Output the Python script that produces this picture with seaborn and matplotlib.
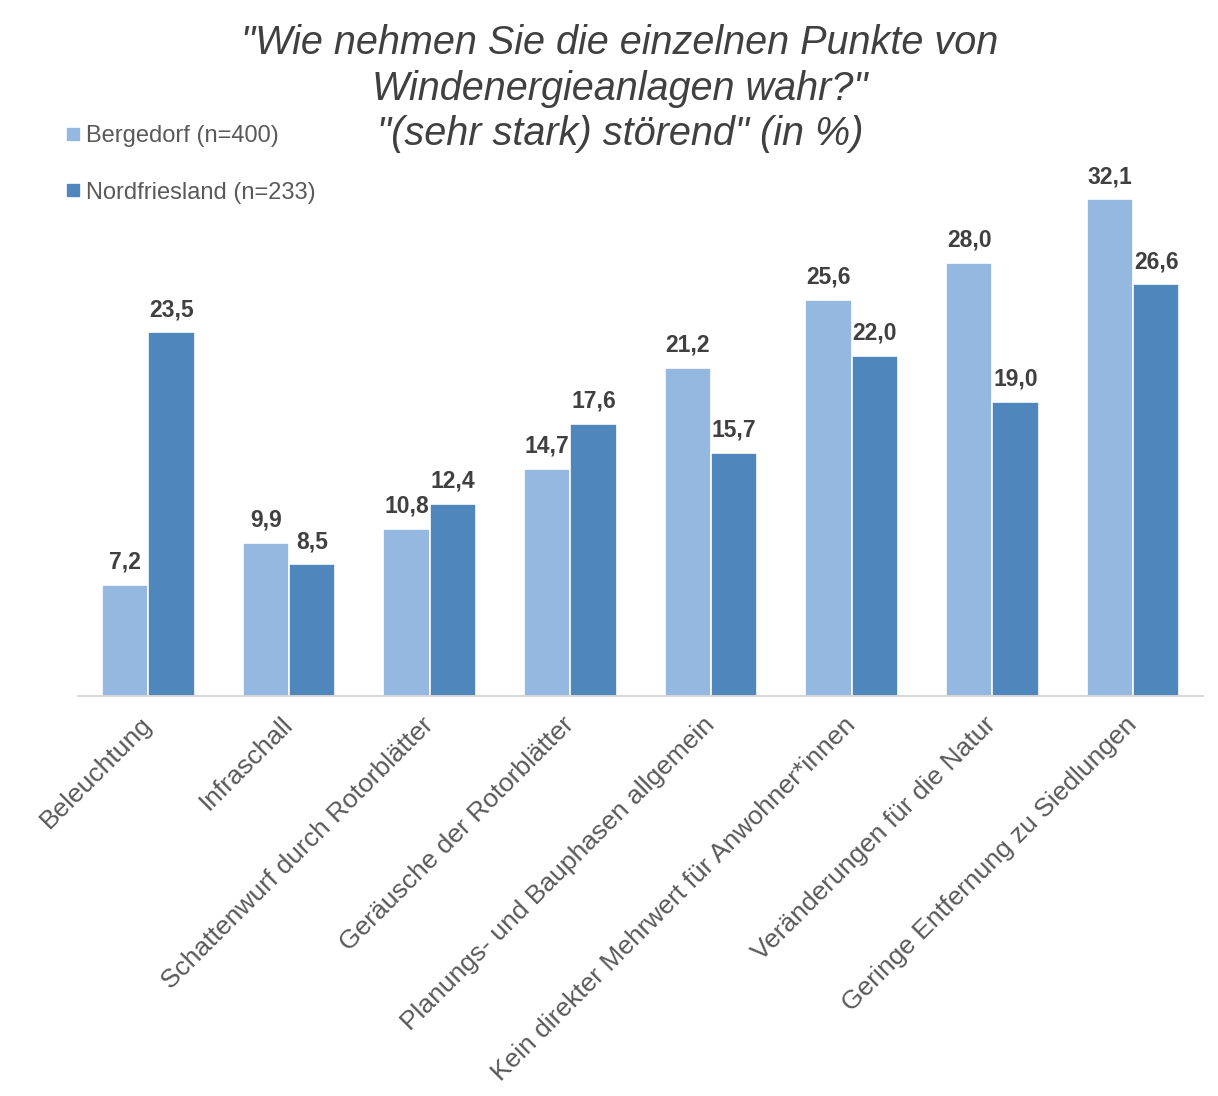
import matplotlib
matplotlib.use("Agg")
import matplotlib.pyplot as plt
import seaborn as sns
import pandas as pd
from matplotlib.lines import Line2D

categories = ["Beleuchtung", "Infraschall", "Schattenwurf durch Rotorblätter",
              "Geräusche der Rotorblätter", "Planungs- und Bauphasen allgemein",
              "Kein direkter Mehrwert für Anwohner*innen", "Veränderungen für die Natur",
              "Geringe Entfernung zu Siedlungen"]
bergedorf = [7.2, 9.9, 10.8, 14.7, 21.2, 25.6, 28.0, 32.1]
nordfriesland = [23.5, 8.5, 12.4, 17.6, 15.7, 22.0, 19.0, 26.6]
series_names = ["Bergedorf (n=400)", "Nordfriesland (n=233)"]
title_lines = ["\"Wie nehmen Sie die einzelnen Punkte von",
               "Windenergieanlagen wahr?\"",
               "\"(sehr stark) störend\" (in %)"]
colors = ["#95B8E0", "#4F86BC"]

df = pd.DataFrame({
    "Kategorie": categories * 2,
    "Wert": bergedorf + nordfriesland,
    "Region": [series_names[0]] * len(categories) + [series_names[1]] * len(categories),
})

sns.set_theme(style="white")
plt.rcParams["font.family"] = ["Liberation Sans", "DejaVu Sans"]

fig = plt.figure(figsize=(12.18, 10.96), dpi=100)
ax = fig.add_axes([0.064, 0.365, 0.924, 0.48])

sns.barplot(data=df, x="Kategorie", y="Wert", hue="Region", order=categories,
            hue_order=series_names, palette=colors, width=0.66, ax=ax,
            edgecolor="white", linewidth=1.2, legend=False, saturation=1)

for cont in ax.containers:
    labels = [f"{v:.1f}".replace(".", ",") for v in cont.datavalues]
    ax.bar_label(cont, labels=labels, padding=8, fontsize=16.5, fontweight="bold",
                 color="#404040")

ax.set_ylim(0, 34)
ax.set_xlim(-0.5, len(categories) - 0.5)
ax.set_xlabel("")
ax.set_ylabel("")
ax.set_yticks([])
for s in ["top", "right", "left"]:
    ax.spines[s].set_visible(False)
ax.spines["bottom"].set_color("#D0D0D0")
ax.spines["bottom"].set_linewidth(1.2)
ax.tick_params(axis="x", length=0, pad=18)
ax.set_xticks(range(len(categories)))
ax.set_xticklabels(categories, rotation=45, ha="right", va="center",
                   rotation_mode="anchor", fontsize=19, color="#595959")

for i, line in enumerate(title_lines):
    fig.text(0.509, 1 - (43 + 45.5 * i) / 1096, line, ha="center", va="center",
             fontsize=28.5, style="italic", color="#404040")

handles = [Line2D([0], [0], marker="s", linestyle="", markersize=8,
                  markerfacecolor=c, markeredgecolor=c) for c in colors]
leg = fig.legend(handles, series_names, loc="upper left", bbox_to_anchor=(0.033, 0.905),
                 frameon=False, fontsize=17, labelspacing=1.45, handletextpad=0.05,
                 handlelength=1.0)
for t in leg.get_texts():
    t.set_color("#595959")

fig.savefig("out.png", dpi=100, facecolor="white")
